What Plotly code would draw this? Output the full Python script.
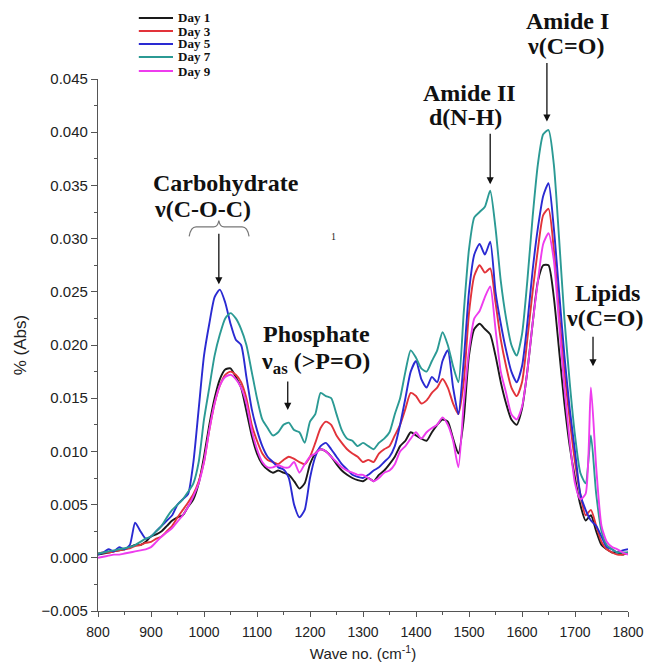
import plotly.graph_objects as go

wavenumber = list(range(800, 1801, 10))

day1 = [0.0003, 0.0004, 0.0005, 0.0006, 0.0007, 0.0008, 0.0010, 0.0012, 0.0012, 0.0015,
        0.0020, 0.0022, 0.0025, 0.0030, 0.0035, 0.0038, 0.0040, 0.0048, 0.0055, 0.0070,
        0.0095, 0.0125, 0.0150, 0.0168, 0.0177, 0.0178, 0.0170, 0.0160, 0.0138, 0.0115,
        0.0098, 0.0088, 0.0083, 0.0080, 0.0082, 0.0080, 0.0078, 0.0072, 0.0065, 0.0070,
        0.0088, 0.0098, 0.0102, 0.0100, 0.0095, 0.0088, 0.0082, 0.0078, 0.0075, 0.0073,
        0.0072, 0.0075, 0.0072, 0.0078, 0.0082, 0.0088, 0.0095, 0.0105, 0.0110, 0.0118,
        0.0115, 0.0112, 0.0110, 0.0118, 0.0125, 0.0130, 0.0128, 0.0112, 0.0098, 0.0130,
        0.0190, 0.0215, 0.0220, 0.0215, 0.0210, 0.0190, 0.0165, 0.0145, 0.0130, 0.0125,
        0.0140, 0.0175, 0.0220, 0.0260, 0.0275, 0.0275, 0.0245, 0.0195, 0.0145, 0.0105,
        0.0075, 0.0050, 0.0035, 0.0040, 0.0025, 0.0012, 0.0008, 0.0005, 0.0005, 0.0003,
        0.0005]

day3 = [0.0004, 0.0005, 0.0005, 0.0006, 0.0007, 0.0008, 0.0009, 0.0011, 0.0012, 0.0014,
        0.0015, 0.0018, 0.0020, 0.0025, 0.0030, 0.0038, 0.0045, 0.0052, 0.0060, 0.0072,
        0.0090, 0.0120, 0.0145, 0.0162, 0.0172, 0.0175, 0.0172, 0.0165, 0.0150, 0.0125,
        0.0110, 0.0098, 0.0092, 0.0090, 0.0088, 0.0092, 0.0095, 0.0093, 0.0090, 0.0088,
        0.0095, 0.0108, 0.0122, 0.0128, 0.0125, 0.0115, 0.0108, 0.0102, 0.0098, 0.0095,
        0.0090, 0.0092, 0.0090, 0.0098, 0.0102, 0.0105, 0.0115, 0.0125, 0.0140, 0.0155,
        0.0152, 0.0145, 0.0148, 0.0155, 0.0160, 0.0168, 0.0160, 0.0145, 0.0135, 0.0165,
        0.0230, 0.0265, 0.0275, 0.0268, 0.0272, 0.0240, 0.0205, 0.0180, 0.0160, 0.0152,
        0.0165, 0.0205, 0.0250, 0.0290, 0.0322, 0.0328, 0.0290, 0.0230, 0.0175, 0.0130,
        0.0090, 0.0060, 0.0040, 0.0045, 0.0030, 0.0015, 0.0008, 0.0005, 0.0003, 0.0003,
        0.0005]

day5 = [0.0003, 0.0005, 0.0008, 0.0006, 0.0010, 0.0008, 0.0012, 0.0033, 0.0025, 0.0018,
        0.0020, 0.0025, 0.0030, 0.0035, 0.0040, 0.0050, 0.0055, 0.0060, 0.0090, 0.0140,
        0.0190, 0.0220, 0.0245, 0.0252, 0.0240, 0.0220, 0.0205, 0.0200, 0.0170, 0.0140,
        0.0120, 0.0105, 0.0095, 0.0090, 0.0085, 0.0083, 0.0075, 0.0050, 0.0038, 0.0045,
        0.0075, 0.0095, 0.0105, 0.0108, 0.0102, 0.0095, 0.0088, 0.0083, 0.0078, 0.0076,
        0.0075, 0.0078, 0.0082, 0.0085, 0.0090, 0.0095, 0.0105, 0.0125, 0.0150, 0.0175,
        0.0185, 0.0168, 0.0160, 0.0170, 0.0165, 0.0185, 0.0195, 0.0160, 0.0135, 0.0185,
        0.0250, 0.0285, 0.0295, 0.0285, 0.0297, 0.0250, 0.0220, 0.0195, 0.0175, 0.0165,
        0.0180, 0.0220, 0.0270, 0.0310, 0.0340, 0.0352, 0.0310, 0.0250, 0.0190, 0.0140,
        0.0100, 0.0060, 0.0045, 0.0035, 0.0030, 0.0020, 0.0010, 0.0008, 0.0005, 0.0007,
        0.0008]

day7 = [0.0004, 0.0005, 0.0006, 0.0007, 0.0008, 0.0009, 0.0010, 0.0012, 0.0015, 0.0018,
        0.0020, 0.0025, 0.0030, 0.0038, 0.0045, 0.0050, 0.0055, 0.0062, 0.0070, 0.0090,
        0.0130, 0.0160, 0.0190, 0.0210, 0.0225, 0.0230, 0.0225, 0.0215, 0.0200, 0.0175,
        0.0150, 0.0130, 0.0122, 0.0115, 0.0118, 0.0125, 0.0127, 0.0120, 0.0118, 0.0108,
        0.0128, 0.0135, 0.0155, 0.0152, 0.0150, 0.0135, 0.0120, 0.0112, 0.0110, 0.0105,
        0.0108, 0.0105, 0.0102, 0.0108, 0.0112, 0.0118, 0.0135, 0.0150, 0.0175, 0.0195,
        0.0188, 0.0178, 0.0175, 0.0185, 0.0195, 0.0212, 0.0200, 0.0180, 0.0165, 0.0230,
        0.0290, 0.0320, 0.0325, 0.0330, 0.0345, 0.0310, 0.0260, 0.0225, 0.0200, 0.0190,
        0.0210, 0.0260, 0.0320, 0.0370, 0.0398, 0.0402, 0.0370, 0.0300, 0.0225, 0.0165,
        0.0115, 0.0080, 0.0070, 0.0115, 0.0060, 0.0025, 0.0012, 0.0008, 0.0005, 0.0005,
        0.0005]

day9 = [0.0000, 0.0001, 0.0002, 0.0003, 0.0003, 0.0004, 0.0005, 0.0006, 0.0007, 0.0008,
        0.0010, 0.0015, 0.0020, 0.0024, 0.0028, 0.0034, 0.0040, 0.0048, 0.0058, 0.0070,
        0.0090, 0.0120, 0.0145, 0.0162, 0.0170, 0.0172, 0.0168, 0.0160, 0.0145, 0.0120,
        0.0102, 0.0090, 0.0085, 0.0085, 0.0087, 0.0085, 0.0085, 0.0090, 0.0080, 0.0088,
        0.0095, 0.0098, 0.0102, 0.0100, 0.0095, 0.0090, 0.0085, 0.0082, 0.0080, 0.0078,
        0.0078, 0.0075, 0.0072, 0.0075, 0.0080, 0.0082, 0.0088, 0.0100, 0.0105, 0.0112,
        0.0118, 0.0112, 0.0118, 0.0122, 0.0125, 0.0132, 0.0125, 0.0110, 0.0085, 0.0145,
        0.0195, 0.0225, 0.0232, 0.0245, 0.0255, 0.0215, 0.0175, 0.0155, 0.0135, 0.0130,
        0.0142, 0.0175, 0.0220, 0.0260, 0.0295, 0.0305, 0.0280, 0.0220, 0.0160, 0.0110,
        0.0070, 0.0055, 0.0060, 0.0160, 0.0085, 0.0030, 0.0015, 0.0010, 0.0008, 0.0005,
        0.0003]

series_names = ["Day 1", "Day 3", "Day 5", "Day 7", "Day 9"]
series_values = [day1, day3, day5, day7, day9]
series_colors = ["#1a1a1a", "#e2333a", "#2a2ad2", "#2b9a94", "#ee3cee"]

fig = go.Figure()
for name, vals, col in zip(series_names, series_values, series_colors):
    fig.add_trace(go.Scatter(x=wavenumber, y=vals, mode="lines", name=name, showlegend=False,
                             line=dict(color=col, width=1.9, shape="spline", smoothing=0.6)))

serif = "Liberation Serif"
sans = "Liberation Sans"
LAB = 24

def label(x, y, text, ref="data", size=LAB):
    xr, yr = ("x", "y") if ref == "data" else ("paper", "paper")
    fig.add_annotation(x=x, y=y, xref=xr, yref=yr, text=text, showarrow=False,
                       xanchor="center", yanchor="middle",
                       font=dict(family=serif, size=size, color="#111", weight="bold"))

def arrow(x, y_tip, length):
    fig.add_annotation(x=x, y=y_tip, ax=0, ay=-length, xref="x", yref="y",
                       text="", showarrow=True,
                       arrowhead=2, arrowsize=1.1, arrowwidth=1.3, arrowcolor="#111")

# Legend (drawn manually to match compact spacing)
leg_rows = [1.1147, 1.0902, 1.0658, 1.0414, 1.0150]
for name, col, yy in zip(series_names, series_colors, leg_rows):
    fig.add_shape(type="line", xref="paper", yref="paper", x0=0.077, x1=0.1415, y0=yy, y1=yy,
                  line=dict(color=col, width=2.2))
    fig.add_annotation(x=0.149, y=yy, xref="paper", yref="paper", text=name, showarrow=False,
                       xanchor="left", yanchor="middle", borderpad=0,
                       font=dict(family=serif, size=13, color="#111", weight="bold"))

# Carbohydrate
label(1041, 0.0352, "Carbohydrate")
label(998, 0.0328, "ν(C-O-C)")
arrow(1028, 0.0257, 52)
fig.add_shape(type="path", xref="x", yref="y",
              path="M 972,0.0302 Q 975,0.0311 985,0.0311 L 1018,0.0311 Q 1026,0.0311 1028,0.0317 "
                   "Q 1030,0.0311 1038,0.0311 L 1072,0.0311 Q 1082,0.0311 1085,0.0302",
              line=dict(color="#777", width=1.2))

# Phosphate
label(1213, 0.0210, "Phosphate")
label(1211, 0.0183, "ν<sub>as</sub> (>P=O)")
arrow(1158, 0.0139, 30)

# Amide II
label(1500, 0.0437, "Amide II")
label(1494, 0.0414, "d(N-H)")
arrow(1540, 0.0351, 52)

# Amide I (above plot area -> paper coords)
label(0.885, 1.109, "Amide I", ref="paper")
label(0.882, 1.062, "ν(C=O)", ref="paper")
arrow(1647, 0.0410, 60)

# Lipids
label(1762, 0.0249, "Lipids")
label(1756, 0.0225, "ν(C=O)")
arrow(1734, 0.0180, 31)

# stray mark
fig.add_annotation(x=1245, y=0.0302, xref="x", yref="y", text="1", showarrow=False,
                   font=dict(family=serif, size=10, color="#222"))

fig.update_layout(
    width=661, height=667,
    margin=dict(l=90, r=41, t=71, b=64),
    paper_bgcolor="white", plot_bgcolor="white",
    showlegend=False,
    xaxis=dict(range=[800, 1800], tickmode="linear", tick0=800, dtick=100, automargin=False,
               showgrid=False, zeroline=False, showline=True, linecolor="#555", linewidth=1.2,
               ticks="outside", ticklen=5, tickcolor="#555", ticklabelstandoff=3,
               minor=dict(dtick=50, ticks="outside", ticklen=3, tickcolor="#555"),
               tickfont=dict(family=sans, size=14, color="#222"),
               title=dict(text="Wave no. (cm<sup>-1</sup>)", font=dict(family=sans, size=15, color="#222"),
                          standoff=9)),
    yaxis=dict(range=[-0.005, 0.045], tickmode="linear", tick0=-0.005, dtick=0.005,
               tickformat=".3f", automargin=False,
               showgrid=False, zeroline=False, showline=True, linecolor="#555", linewidth=1.2,
               ticks="outside", ticklen=6, tickcolor="#555",
               minor=dict(dtick=0.0025, ticks="outside", ticklen=3, tickcolor="#555"),
               tickfont=dict(family=sans, size=15, color="#222"),
               title=dict(text="% (Abs)", font=dict(family=sans, size=17, color="#222"),
                          standoff=10)),
)

fig.write_html("out.html")
